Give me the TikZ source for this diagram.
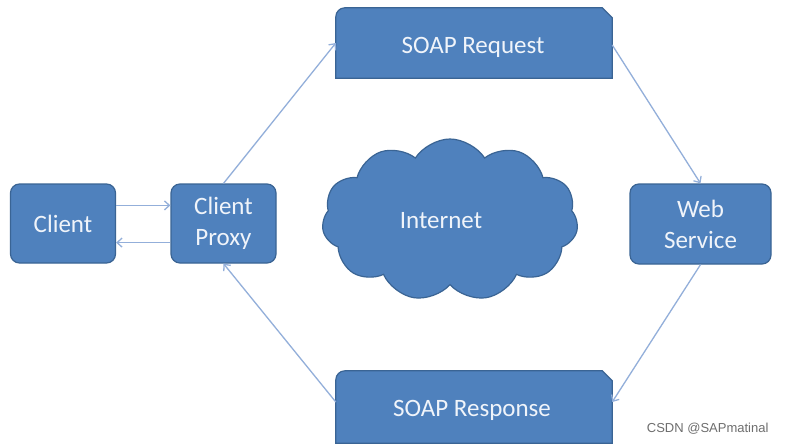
\documentclass[tikz,border=0pt]{standalone}
\usepackage{fontspec}
\setmainfont{Carlito}
\setsansfont{Liberation Sans}
\usetikzlibrary{shapes.symbols,arrows.meta,calc}
\definecolor{boxfill}{HTML}{4F81BD}
\definecolor{boxline}{HTML}{3A6494}
\definecolor{boxtext}{HTML}{F0F4FA}
\definecolor{arrowc}{HTML}{93AFDA}
\definecolor{wmark}{HTML}{6E6E6E}
\begin{document}
\begin{tikzpicture}[x=1pt,y=-1pt,
  box/.style={draw=boxline, line width=1.2pt, fill=boxfill, rounded corners=9pt,
    text=boxtext, font=\fontsize{25}{31}\selectfont, align=center, inner sep=0pt},
  snipbox/.style={text=boxtext, font=\fontsize{25}{31}\selectfont, inner sep=0pt},
  snipshape/.style={draw=boxline, line width=1.2pt, fill=boxfill},
  conn/.style={draw=arrowc, line width=1.3pt, -{Straight Barb[length=5pt,width=9pt]}}]
\useasboundingbox (0,0) rectangle (786,444);
\fill[white] (0,0) rectangle (786,444);

\node[box, minimum width=105pt, minimum height=79pt] (client) at (63,223.5) {Client};
\node[box, minimum width=105pt, minimum height=79pt] (proxy) at (223.5,223.5) {Client\\Proxy};
\node[box, minimum width=141pt, minimum height=80pt] (web) at (700.5,224) {Web\\Service};

% SOAP Request
\node[snipbox, minimum width=276pt, minimum height=70pt] (req) at (474,43) {};
\path[snipshape] (req.south west) -- ($(req.north west)+(0,9)$)
  arc[start angle=180, end angle=90, radius=9pt]
  -- ($(req.north east)+(-10,0)$) -- ($(req.north east)+(0,10)$) -- (req.south east) -- cycle;
\node[snipbox] at ($(req.center)+(-1,4)$) {SOAP Request};

% SOAP Response
\node[snipbox, minimum width=276pt, minimum height=72pt] (resp) at (474,407) {};
\path[snipshape] (resp.south west) -- ($(resp.north west)+(0,9)$)
  arc[start angle=180, end angle=90, radius=9pt]
  -- ($(resp.north east)+(-10,0)$) -- ($(resp.north east)+(0,10)$) -- (resp.south east) -- cycle;
\node[snipbox] at ($(resp.center)+(-2,3)$) {SOAP Response};

% Cloud
\node[cloud, cloud puffs=11, cloud puff arc=115, aspect=1.6, draw=boxline, line width=1.2pt,
  fill=boxfill, minimum width=256pt, minimum height=162pt, inner sep=0pt] (net) at (450,220) {};
\node[text=boxtext, font=\fontsize{25}{31}\selectfont] (nettext) at (441,221) {Internet};

% Connectors
\draw[conn] ($(client.north east)+(0,22)$) -- ($(proxy.north west)+(0,22)$);
\draw[conn] ($(proxy.south west)+(0,-21)$) -- ($(client.south east)+(0,-21)$);
\draw[conn] (proxy.north) -- (req.west);
\draw[conn] ($(req.east)+(0,2)$) -- (web.north);
\draw[conn] (web.south) -- ($(resp.east)+(0,-5)$);
\draw[conn] ($(resp.west)+(0,-5)$) -- (proxy.south);

\node[font=\sffamily\fontsize{13}{15}\selectfont, text=wmark, anchor=east] (wm) at (772,429) {CSDN @SAPmatinal};
\end{tikzpicture}
\end{document}
